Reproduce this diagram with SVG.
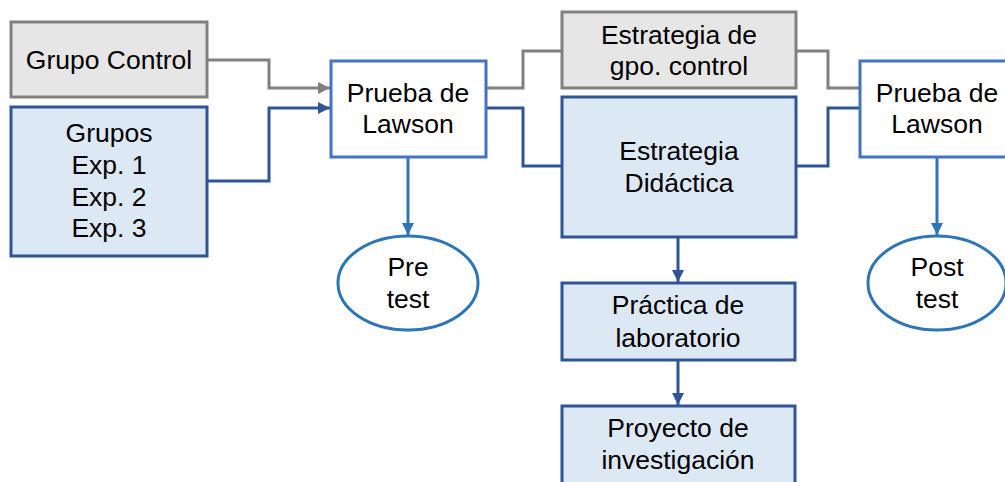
<svg xmlns="http://www.w3.org/2000/svg" width="1005" height="482" viewBox="0 0 1005 482">
<style>
text{font-family:"Liberation Sans",Arial,sans-serif;font-size:26.5px;fill:#000;text-anchor:middle}
.gray{fill:#e6e6e6;stroke:#808080;stroke-width:3}
.exp{fill:#dde8f5;stroke:#2f5597;stroke-width:3}
.test{fill:#fff;stroke:#4472c4;stroke-width:3}
.ell{fill:#fff;stroke:#2e75b6;stroke-width:3}
.cg{fill:none;stroke:#808080;stroke-width:3}
.cb{fill:none;stroke:#2f5597;stroke-width:3}
.cl{fill:none;stroke:#2e75b6;stroke-width:3}
</style>
<defs>
<marker id="ag" viewBox="0 0 10 10" refX="10" refY="5" markerWidth="4.5" markerHeight="4" orient="auto" markerUnits="strokeWidth"><path d="M0,0 L10,5 L0,10 z" fill="#808080"/></marker>
<marker id="ab" viewBox="0 0 10 10" refX="10" refY="5" markerWidth="4.5" markerHeight="4" orient="auto" markerUnits="strokeWidth"><path d="M0,0 L10,5 L0,10 z" fill="#2f5597"/></marker>
<marker id="al" viewBox="0 0 10 10" refX="10" refY="5" markerWidth="4.5" markerHeight="4" orient="auto" markerUnits="strokeWidth"><path d="M0,0 L10,5 L0,10 z" fill="#2e75b6"/></marker>
</defs>
<g id="connectors">
<polyline class="cg" points="207,60 269,60 269,88 330,88" marker-end="url(#ag)"/>
<polyline class="cb" points="207,181 269,181 269,108 330,108" marker-end="url(#ab)"/>
<polyline class="cg" points="486,88 523,88 523,51 562,51"/>
<polyline class="cb" points="486,108 523,108 523,166 562,166"/>
<polyline class="cg" points="796,51 828,51 828,88 860,88"/>
<polyline class="cb" points="796,166 828,166 828,108 860,108"/>
<line class="cl" x1="408" y1="157" x2="408" y2="235" marker-end="url(#al)"/>
<line class="cl" x1="937" y1="157" x2="937" y2="235" marker-end="url(#al)"/>
<line class="cb" x1="678" y1="237" x2="678" y2="282" marker-end="url(#ab)"/>
<line class="cb" x1="678" y1="360" x2="678" y2="405" marker-end="url(#ab)"/>
</g>
<g id="grupo-control">
<rect class="gray" x="11" y="22" width="196" height="75"/>
<text x="109" y="69">Grupo Control</text>
</g>
<g id="grupos-exp">
<rect class="exp" x="11" y="107" width="196" height="149"/>
<text x="109" y="142">Grupos</text>
<text x="109" y="174">Exp. 1</text>
<text x="109" y="206">Exp. 2</text>
<text x="109" y="237">Exp. 3</text>
</g>
<g id="prueba-lawson-1">
<rect class="test" x="331" y="61" width="155" height="96"/>
<text x="408" y="102">Prueba de</text>
<text x="408" y="133">Lawson</text>
</g>
<g id="pre-test">
<ellipse class="ell" cx="408" cy="283" rx="70" ry="47"/>
<text x="408" y="276">Pre</text>
<text x="408" y="308">test</text>
</g>
<g id="estrategia-gpo-control">
<rect class="gray" x="562" y="12" width="234" height="76"/>
<text x="679" y="44">Estrategia de</text>
<text x="679" y="75">gpo. control</text>
</g>
<g id="estrategia-didactica">
<rect class="exp" x="562" y="97" width="234" height="140"/>
<text x="679" y="160">Estrategia</text>
<text x="679" y="192">Didáctica</text>
</g>
<g id="practica-laboratorio">
<rect class="exp" x="562" y="283" width="233" height="77"/>
<text x="678" y="314">Práctica de</text>
<text x="678" y="347">laboratorio</text>
</g>
<g id="proyecto-investigacion">
<rect class="exp" x="562" y="406" width="233" height="90"/>
<text x="678" y="437">Proyecto de</text>
<text x="678" y="469">investigación</text>
</g>
<g id="prueba-lawson-2">
<rect class="test" x="860" y="61" width="155" height="96"/>
<text x="937" y="102">Prueba de</text>
<text x="937" y="133">Lawson</text>
</g>
<g id="post-test">
<ellipse class="ell" cx="937" cy="283" rx="69" ry="47"/>
<text x="937" y="276">Post</text>
<text x="937" y="308">test</text>
</g>
</svg>
